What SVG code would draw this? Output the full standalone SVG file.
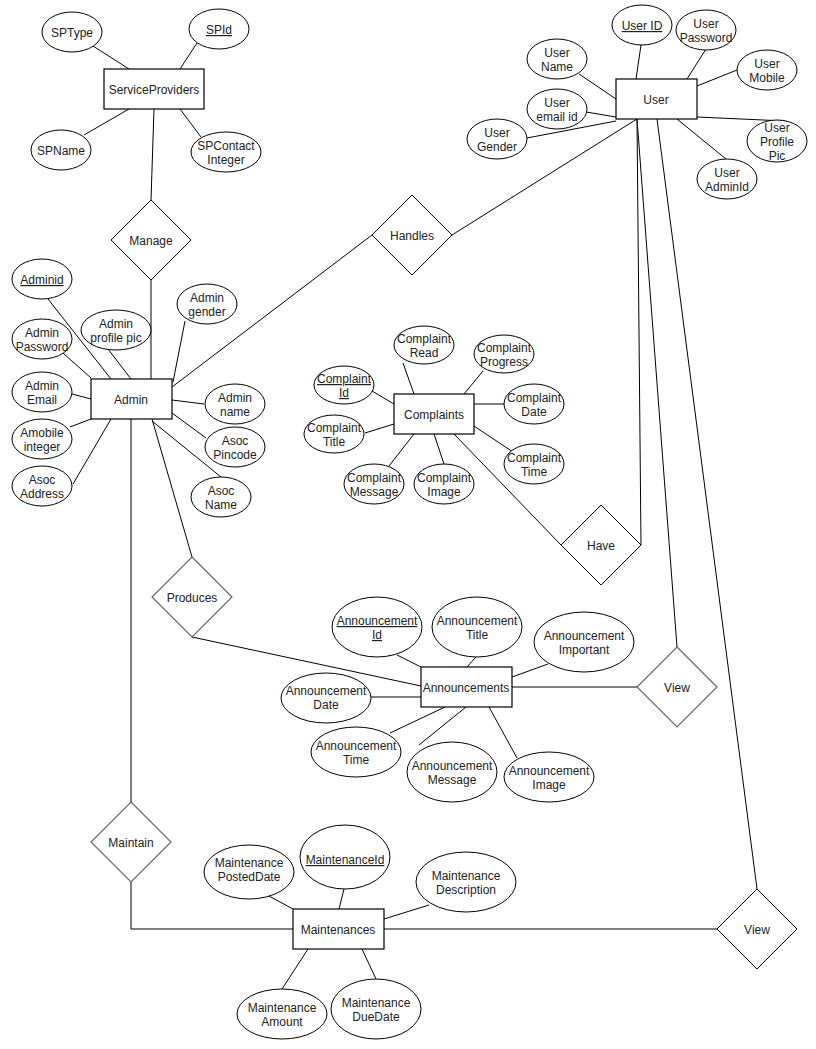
<svg xmlns="http://www.w3.org/2000/svg" width="816" height="1049" viewBox="0 0 816 1049">
<style>
.bg{fill:#fff}
.e{fill:#fff;stroke:#000;stroke-width:1}
.r{fill:#fff;stroke:#000;stroke-width:1.2}
.d{fill:#fff;stroke:#000;stroke-width:1}
.dg{fill:#fff;stroke:#666;stroke-width:1.2}
.c{fill:none;stroke:#000;stroke-width:1}
text{font-family:"Liberation Sans",Arial,sans-serif;font-size:12px;fill:#222;text-anchor:middle;transform:translateY(1px)}
.u{text-decoration:underline}
</style>
<rect class="bg" x="0" y="0" width="816" height="1049"/>
<g id="connectors">
<line class="c" x1="93" y1="46" x2="129" y2="69"/>
<line class="c" x1="197" y1="43" x2="180" y2="69"/>
<line class="c" x1="84" y1="135" x2="129" y2="109"/>
<line class="c" x1="201" y1="137" x2="180" y2="109"/>
<line class="c" x1="154" y1="109" x2="151" y2="200"/>
<line class="c" x1="151" y1="280" x2="151" y2="379"/>
<line class="c" x1="48" y1="299" x2="111" y2="379"/>
<line class="c" x1="63" y1="353" x2="91" y2="378"/>
<line class="c" x1="72" y1="394" x2="91" y2="399"/>
<line class="c" x1="70" y1="427" x2="91" y2="419"/>
<line class="c" x1="73" y1="484" x2="111" y2="419"/>
<line class="c" x1="108" y1="349" x2="131" y2="379"/>
<line class="c" x1="185" y1="321" x2="173" y2="382"/>
<line class="c" x1="172" y1="400" x2="204" y2="404"/>
<line class="c" x1="172" y1="413" x2="206" y2="438"/>
<line class="c" x1="152" y1="421" x2="221" y2="477"/>
<line class="c" x1="172" y1="387" x2="372" y2="235"/>
<line class="c" x1="452" y1="235" x2="637" y2="119"/>
<line class="c" x1="152" y1="419" x2="192" y2="557"/>
<line class="c" x1="192" y1="637" x2="421" y2="686"/>
<line class="c" x1="131" y1="419" x2="131" y2="802"/>
<polyline class="c" points="131,882 131,929 293,929"/>
<line class="c" x1="384" y1="929" x2="717" y2="929"/>
<line class="c" x1="637" y1="119" x2="641" y2="545"/>
<line class="c" x1="637" y1="119" x2="677" y2="647"/>
<line class="c" x1="657" y1="119" x2="757" y2="889"/>
<line class="c" x1="454" y1="434" x2="561" y2="545"/>
<line class="c" x1="512" y1="687" x2="637" y2="687"/>
<line class="c" x1="641" y1="45" x2="636" y2="79"/>
<line class="c" x1="706" y1="49" x2="687" y2="79"/>
<line class="c" x1="737" y1="70" x2="697" y2="86"/>
<line class="c" x1="697" y1="117" x2="785" y2="121"/>
<line class="c" x1="677" y1="119" x2="726" y2="159"/>
<line class="c" x1="579" y1="74" x2="616" y2="99"/>
<line class="c" x1="586" y1="112" x2="616" y2="117"/>
<line class="c" x1="527" y1="138" x2="616" y2="121"/>
<line class="c" x1="403" y1="363" x2="414" y2="394"/>
<line class="c" x1="483" y1="371" x2="464" y2="394"/>
<line class="c" x1="372" y1="391" x2="394" y2="404"/>
<line class="c" x1="365" y1="433" x2="394" y2="424"/>
<line class="c" x1="474" y1="404" x2="504" y2="404"/>
<line class="c" x1="474" y1="426" x2="513" y2="452"/>
<line class="c" x1="414" y1="434" x2="389" y2="466"/>
<line class="c" x1="434" y1="434" x2="444" y2="464"/>
<line class="c" x1="397" y1="655" x2="421" y2="667"/>
<line class="c" x1="476" y1="657" x2="467" y2="667"/>
<line class="c" x1="548" y1="664" x2="512" y2="677"/>
<line class="c" x1="371" y1="697" x2="421" y2="697"/>
<line class="c" x1="390" y1="733" x2="445" y2="707"/>
<line class="c" x1="419" y1="745" x2="466" y2="707"/>
<line class="c" x1="517" y1="758" x2="489" y2="707"/>
<line class="c" x1="269" y1="896" x2="293" y2="909"/>
<line class="c" x1="344" y1="889" x2="339" y2="909"/>
<line class="c" x1="429" y1="905" x2="384" y2="919"/>
<line class="c" x1="308" y1="949" x2="282" y2="989"/>
<line class="c" x1="362" y1="949" x2="376" y2="979"/>
</g>
<g id="serviceproviders"><rect class="r" x="104" y="69" width="100" height="40"/><text x="154" y="93">ServiceProviders</text></g>
<g id="sptype"><ellipse class="e" cx="72" cy="32" rx="30" ry="20"/><text x="72" y="36">SPType</text></g>
<g id="spid"><ellipse class="e" cx="219" cy="29" rx="30" ry="20"/><text class="u" x="219" y="33">SPId</text></g>
<g id="spname"><ellipse class="e" cx="61" cy="150" rx="30" ry="20"/><text x="61" y="154">SPName</text></g>
<g id="spcontact"><ellipse class="e" cx="226" cy="152" rx="35" ry="20"/><text x="226" y="149">SPContact</text><text x="226" y="163">Integer</text></g>
<g id="manage"><polygon class="d" points="151,200 191,240 151,280 111,240"/><text x="151" y="244">Manage</text></g>
<g id="admin"><rect class="r" x="91" y="379" width="81" height="40"/><text x="131" y="403">Admin</text></g>
<g id="adminid"><ellipse class="e" cx="42" cy="279" rx="30" ry="20"/><text class="u" x="42" y="283">Adminid</text></g>
<g id="adminpassword"><ellipse class="e" cx="42" cy="339" rx="30" ry="20"/><text x="42" y="336">Admin</text><text x="42" y="350">Password</text></g>
<g id="adminemail"><ellipse class="e" cx="42" cy="392" rx="30" ry="20"/><text x="42" y="389">Admin</text><text x="42" y="403">Email</text></g>
<g id="amobile"><ellipse class="e" cx="42" cy="439" rx="30" ry="20"/><text x="42" y="436">Amobile</text><text x="42" y="450">integer</text></g>
<g id="asocaddress"><ellipse class="e" cx="42" cy="486" rx="30" ry="20"/><text x="42" y="483">Asoc</text><text x="42" y="497">Address</text></g>
<g id="adminprofilepic"><ellipse class="e" cx="116" cy="330" rx="35" ry="20"/><text x="116" y="327">Admin</text><text x="116" y="341">profile pic</text></g>
<g id="admingender"><ellipse class="e" cx="207" cy="304" rx="30" ry="20"/><text x="207" y="301">Admin</text><text x="207" y="315">gender</text></g>
<g id="adminname"><ellipse class="e" cx="235" cy="404" rx="30" ry="20"/><text x="235" y="401">Admin</text><text x="235" y="415">name</text></g>
<g id="asocpincode"><ellipse class="e" cx="235" cy="447" rx="30" ry="20"/><text x="235" y="444">Asoc</text><text x="235" y="458">Pincode</text></g>
<g id="asocname"><ellipse class="e" cx="221" cy="497" rx="30" ry="20"/><text x="221" y="494">Asoc</text><text x="221" y="508">Name</text></g>
<g id="handles"><polygon class="d" points="412,195 452,235 412,275 372,235"/><text x="412" y="239">Handles</text></g>
<g id="user"><rect class="r" x="616" y="79" width="81" height="40"/><text x="656" y="103">User</text></g>
<g id="userid"><ellipse class="e" cx="642" cy="25" rx="30" ry="20"/><text class="u" x="642" y="29">User ID</text></g>
<g id="userpassword"><ellipse class="e" cx="706" cy="30" rx="30" ry="20"/><text x="706" y="27">User</text><text x="706" y="41">Password</text></g>
<g id="username"><ellipse class="e" cx="557" cy="59" rx="30" ry="20"/><text x="557" y="56">User</text><text x="557" y="70">Name</text></g>
<g id="useremail"><ellipse class="e" cx="557" cy="109" rx="30" ry="20"/><text x="557" y="106">User</text><text x="557" y="120">email id</text></g>
<g id="usergender"><ellipse class="e" cx="497" cy="139" rx="30" ry="20"/><text x="497" y="136">User</text><text x="497" y="150">Gender</text></g>
<g id="usermobile"><ellipse class="e" cx="767" cy="70" rx="30" ry="20"/><text x="767" y="67">User</text><text x="767" y="81">Mobile</text></g>
<g id="userprofilepic"><ellipse class="e" cx="777" cy="141" rx="30" ry="21"/><text x="777" y="131">User</text><text x="777" y="145">Profile</text><text x="777" y="159">Pic</text></g>
<g id="useradminid"><ellipse class="e" cx="727" cy="179" rx="30" ry="20"/><text x="727" y="176">User</text><text x="727" y="190">AdminId</text></g>
<g id="complaints"><rect class="r" x="394" y="394" width="80" height="40"/><text x="434" y="418">Complaints</text></g>
<g id="complaintread"><ellipse class="e" cx="424" cy="345" rx="30" ry="19"/><text x="424" y="342">Complaint</text><text x="424" y="356">Read</text></g>
<g id="complaintprogress"><ellipse class="e" cx="504" cy="354" rx="30" ry="19"/><text x="504" y="351">Complaint</text><text x="504" y="365">Progress</text></g>
<g id="complaintid"><ellipse class="e" cx="344" cy="385" rx="30" ry="19"/><text class="u" x="344" y="382">Complaint</text><text class="u" x="344" y="396">Id</text></g>
<g id="complainttitle"><ellipse class="e" cx="334" cy="434" rx="30" ry="19"/><text x="334" y="431">Complaint</text><text x="334" y="445">Title</text></g>
<g id="complaintdate"><ellipse class="e" cx="534" cy="404" rx="30" ry="20"/><text x="534" y="401">Complaint</text><text x="534" y="415">Date</text></g>
<g id="complainttime"><ellipse class="e" cx="534" cy="464" rx="30" ry="20"/><text x="534" y="461">Complaint</text><text x="534" y="475">Time</text></g>
<g id="complaintmessage"><ellipse class="e" cx="374" cy="484" rx="30" ry="20"/><text x="374" y="481">Complaint</text><text x="374" y="495">Message</text></g>
<g id="complaintimage"><ellipse class="e" cx="444" cy="484" rx="30" ry="20"/><text x="444" y="481">Complaint</text><text x="444" y="495">Image</text></g>
<g id="have"><polygon class="d" points="601,505 641,545 601,585 561,545"/><text x="601" y="549">Have</text></g>
<g id="produces"><polygon class="dg" points="192,557 232,597 192,637 152,597"/><text x="192" y="601">Produces</text></g>
<g id="announcements"><rect class="r" x="421" y="667" width="91" height="40"/><text x="466" y="691">Announcements</text></g>
<g id="annid"><ellipse class="e" cx="377" cy="627" rx="45" ry="30"/><text class="u" x="377" y="624">Announcement</text><text class="u" x="377" y="638">Id</text></g>
<g id="anntitle"><ellipse class="e" cx="477" cy="627" rx="45" ry="30"/><text x="477" y="624">Announcement</text><text x="477" y="638">Title</text></g>
<g id="annimportant"><ellipse class="e" cx="584" cy="642" rx="50" ry="30"/><text x="584" y="639">Announcement</text><text x="584" y="653">Important</text></g>
<g id="anndate"><ellipse class="e" cx="326" cy="698" rx="45" ry="25"/><text x="326" y="694">Announcement</text><text x="326" y="708">Date</text></g>
<g id="anntime"><ellipse class="e" cx="356" cy="752" rx="45" ry="25"/><text x="356" y="749">Announcement</text><text x="356" y="763">Time</text></g>
<g id="annmessage"><ellipse class="e" cx="452" cy="772" rx="45" ry="30"/><text x="452" y="769">Announcement</text><text x="452" y="783">Message</text></g>
<g id="annimage"><ellipse class="e" cx="549" cy="777" rx="45" ry="25"/><text x="549" y="774">Announcement</text><text x="549" y="788">Image</text></g>
<g id="view1"><polygon class="dg" points="677,647 717,687 677,727 637,687"/><text x="677" y="691">View</text></g>
<g id="maintain"><polygon class="dg" points="131,802 171,842 131,882 91,842"/><text x="131" y="846">Maintain</text></g>
<g id="maintenances"><rect class="r" x="293" y="909" width="91" height="40"/><text x="338" y="933">Maintenances</text></g>
<g id="maintpostdate"><ellipse class="e" cx="249" cy="872" rx="45" ry="27"/><text x="249" y="866">Maintenance</text><text x="249" y="880">PostedDate</text></g>
<g id="maintid"><ellipse class="e" cx="345" cy="857" rx="45" ry="32"/><text class="u" x="345" y="863">MaintenanceId</text></g>
<g id="maintdesc"><ellipse class="e" cx="466" cy="882" rx="50" ry="30"/><text x="466" y="879">Maintenance</text><text x="466" y="893">Description</text></g>
<g id="maintamount"><ellipse class="e" cx="282" cy="1014" rx="45" ry="25"/><text x="282" y="1011">Maintenance</text><text x="282" y="1025">Amount</text></g>
<g id="maintduedate"><ellipse class="e" cx="376" cy="1009" rx="45" ry="30"/><text x="376" y="1006">Maintenance</text><text x="376" y="1020">DueDate</text></g>
<g id="view2"><polygon class="d" points="757,889 797,929 757,969 717,929"/><text x="757" y="933">View</text></g>
</svg>
